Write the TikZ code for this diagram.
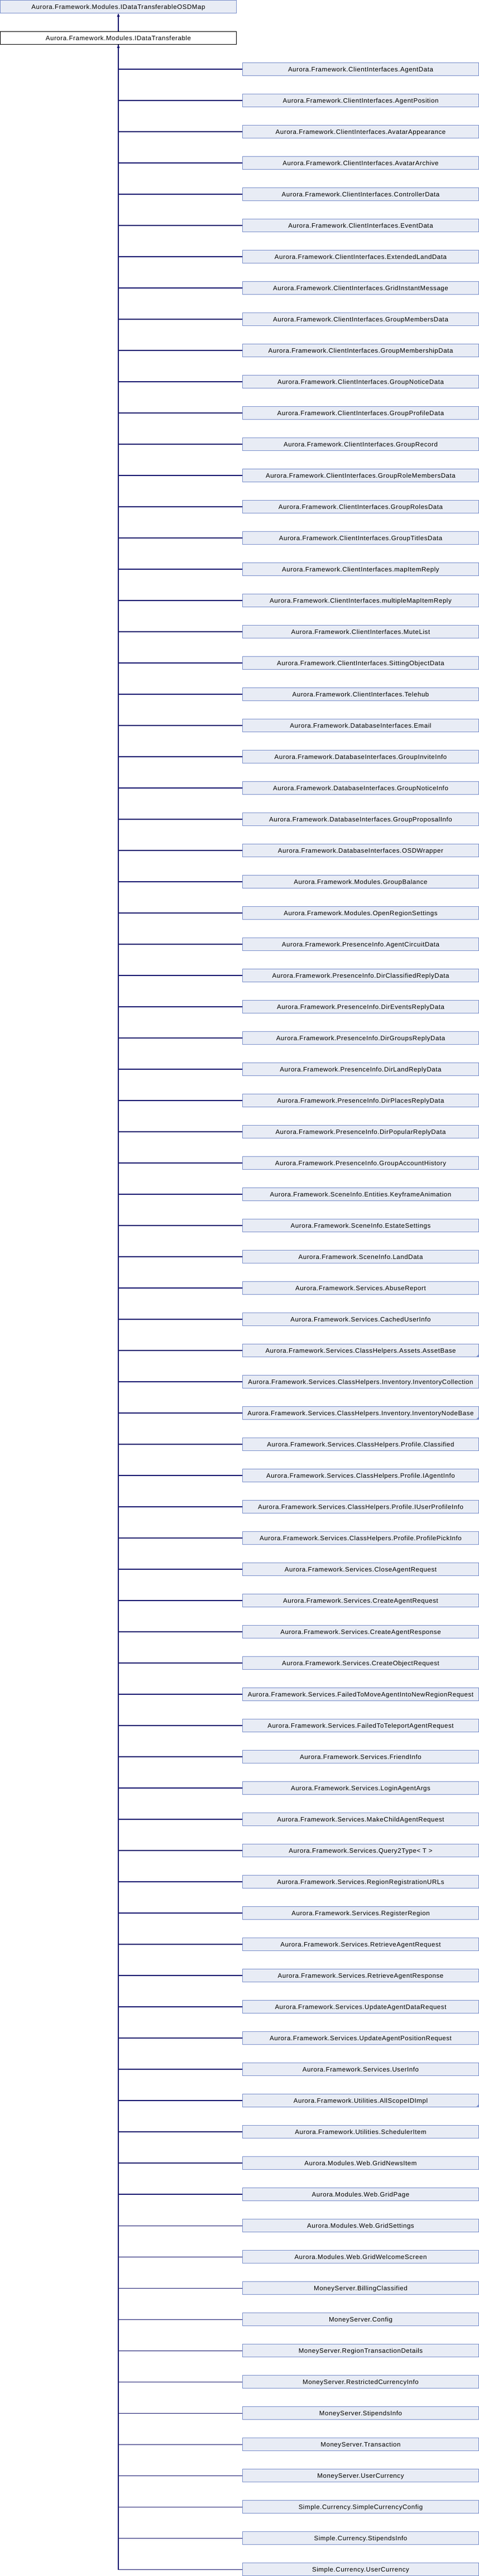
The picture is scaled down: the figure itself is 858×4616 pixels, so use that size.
\documentclass[tikz,border=0pt]{standalone}
\usepackage{fontspec}
\setmainfont{Liberation Sans}[LetterSpace=5.0]
\usetikzlibrary{arrows.meta}
\definecolor{boxfill}{HTML}{E8ECF5}
\definecolor{boxline}{HTML}{7A8FCB}
\definecolor{edgecol}{HTML}{191970}
\tikzset{
  cls/.style={draw=boxline, fill=boxfill, line width=0.9pt, rectangle, inner sep=0pt,
    minimum width=423pt, minimum height=22.7pt, text height=8.3pt, text depth=0pt,
    font=\fontsize{11.5}{13}\selectfont, text=black},
  cur/.style={cls, draw=black, fill=white},
  edge/.style={draw=edgecol, line width=1.1pt},
  arr/.style={-{Triangle[length=6pt,width=4.5pt]}},
  corner/.style={fill=boxline}
}
\begin{document}
\begin{tikzpicture}[x=1pt,y=-1pt]
\useasboundingbox (0,0) rectangle (858,4616);
\node[cls] (top) at (212,12) {Aurora.Framework.Modules.IDataTransferableOSDMap};
\node[cur] (base) at (212,68) {Aurora.Framework.Modules.IDataTransferable};
\draw[edge,arr] (base.north) -- (top.south);
\foreach \t [count=\i] in {
Aurora.Framework.ClientInterfaces.AgentData,
Aurora.Framework.ClientInterfaces.AgentPosition,
Aurora.Framework.ClientInterfaces.AvatarAppearance,
Aurora.Framework.ClientInterfaces.AvatarArchive,
Aurora.Framework.ClientInterfaces.ControllerData,
Aurora.Framework.ClientInterfaces.EventData,
Aurora.Framework.ClientInterfaces.ExtendedLandData,
Aurora.Framework.ClientInterfaces.GridInstantMessage,
Aurora.Framework.ClientInterfaces.GroupMembersData,
Aurora.Framework.ClientInterfaces.GroupMembershipData,
Aurora.Framework.ClientInterfaces.GroupNoticeData,
Aurora.Framework.ClientInterfaces.GroupProfileData,
Aurora.Framework.ClientInterfaces.GroupRecord,
Aurora.Framework.ClientInterfaces.GroupRoleMembersData,
Aurora.Framework.ClientInterfaces.GroupRolesData,
Aurora.Framework.ClientInterfaces.GroupTitlesData,
Aurora.Framework.ClientInterfaces.mapItemReply,
Aurora.Framework.ClientInterfaces.multipleMapItemReply,
Aurora.Framework.ClientInterfaces.MuteList,
Aurora.Framework.ClientInterfaces.SittingObjectData,
Aurora.Framework.ClientInterfaces.Telehub,
Aurora.Framework.DatabaseInterfaces.Email,
Aurora.Framework.DatabaseInterfaces.GroupInviteInfo,
Aurora.Framework.DatabaseInterfaces.GroupNoticeInfo,
Aurora.Framework.DatabaseInterfaces.GroupProposalInfo,
Aurora.Framework.DatabaseInterfaces.OSDWrapper,
Aurora.Framework.Modules.GroupBalance,
Aurora.Framework.Modules.OpenRegionSettings,
Aurora.Framework.PresenceInfo.AgentCircuitData,
Aurora.Framework.PresenceInfo.DirClassifiedReplyData,
Aurora.Framework.PresenceInfo.DirEventsReplyData,
Aurora.Framework.PresenceInfo.DirGroupsReplyData,
Aurora.Framework.PresenceInfo.DirLandReplyData,
Aurora.Framework.PresenceInfo.DirPlacesReplyData,
Aurora.Framework.PresenceInfo.DirPopularReplyData,
Aurora.Framework.PresenceInfo.GroupAccountHistory,
Aurora.Framework.SceneInfo.Entities.KeyframeAnimation,
Aurora.Framework.SceneInfo.EstateSettings,
Aurora.Framework.SceneInfo.LandData,
Aurora.Framework.Services.AbuseReport,
Aurora.Framework.Services.CachedUserInfo,
Aurora.Framework.Services.ClassHelpers.Assets.AssetBase,
Aurora.Framework.Services.ClassHelpers.Inventory.InventoryCollection,
Aurora.Framework.Services.ClassHelpers.Inventory.InventoryNodeBase,
Aurora.Framework.Services.ClassHelpers.Profile.Classified,
Aurora.Framework.Services.ClassHelpers.Profile.IAgentInfo,
Aurora.Framework.Services.ClassHelpers.Profile.IUserProfileInfo,
Aurora.Framework.Services.ClassHelpers.Profile.ProfilePickInfo,
Aurora.Framework.Services.CloseAgentRequest,
Aurora.Framework.Services.CreateAgentRequest,
Aurora.Framework.Services.CreateAgentResponse,
Aurora.Framework.Services.CreateObjectRequest,
Aurora.Framework.Services.FailedToMoveAgentIntoNewRegionRequest,
Aurora.Framework.Services.FailedToTeleportAgentRequest,
Aurora.Framework.Services.FriendInfo,
Aurora.Framework.Services.LoginAgentArgs,
Aurora.Framework.Services.MakeChildAgentRequest,
Aurora.Framework.Services.Query2Type< T >,
Aurora.Framework.Services.RegionRegistrationURLs,
Aurora.Framework.Services.RegisterRegion,
Aurora.Framework.Services.RetrieveAgentRequest,
Aurora.Framework.Services.RetrieveAgentResponse,
Aurora.Framework.Services.UpdateAgentDataRequest,
Aurora.Framework.Services.UpdateAgentPositionRequest,
Aurora.Framework.Services.UserInfo,
Aurora.Framework.Utilities.AllScopeIDImpl,
Aurora.Framework.Utilities.SchedulerItem,
Aurora.Modules.Web.GridNewsItem,
Aurora.Modules.Web.GridPage,
Aurora.Modules.Web.GridSettings,
Aurora.Modules.Web.GridWelcomeScreen,
MoneyServer.BillingClassified,
MoneyServer.Config,
MoneyServer.RegionTransactionDetails,
MoneyServer.RestrictedCurrencyInfo,
MoneyServer.StipendsInfo,
MoneyServer.Transaction,
MoneyServer.UserCurrency,
Simple.Currency.SimpleCurrencyConfig,
Simple.Currency.StipendsInfo,
Simple.Currency.UserCurrency}
{
  \node[cls] (c\i) at (646,{56*(\i+1)+12}) {\t};
  \ifnum\i<81
    \draw[edge] (c\i.west) -| (base.south);
  \fi
}
\draw[edge,arr] (c81.west) -| (base.south);
\foreach \k in {42,44,66}{
  \fill[corner] ([shift={(-0.5,-0.5)}]c\k.south east) -- ++(0,-4.5) -- ++(-4.5,4.5) -- cycle;
}
\end{tikzpicture}
\end{document}
